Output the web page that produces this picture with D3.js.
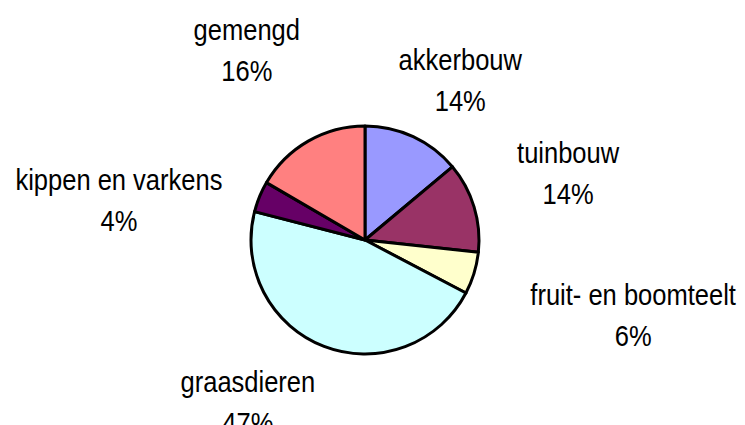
<!DOCTYPE html>
<html>
<head>
<meta charset="utf-8">
<script src="https://cdn.jsdelivr.net/npm/d3@7"></script>
<style>
  body { margin: 0; background: #fff; }
  svg { display: block; }
  .lbl { font-family: "Liberation Sans", Arial, sans-serif; font-size: 29px; fill: #000; }
</style>
</head>
<body>
<div id="chart"></div>
<script>
// sectors, clockwise from 12 o'clock
var categories = ['akkerbouw', 'tuinbouw', 'fruit- en boomteelt', 'graasdieren', 'kippen en varkens', 'gemengd'];
var values = [13.9, 12.8, 6.0, 46.3, 4.4, 16.6];
var percentLabels = ['14%', '14%', '6%', '47%', '4%', '16%'];
var colors = ['#9999ff', '#993366', '#ffffcc', '#ccffff', '#660066', '#ff8080'];

// label boxes were moved by hand in the original, nudge them off the label arc
var labelNudge = [[28, -16], [51, -21], [116, 29], [-60, 14], [-99, 20], [-39, -52]];

var width = 745, height = 425;
var cx = 365, cy = 240, radius = 114;
var squeeze = 0.88; // the original font is a narrow one

var svg = d3.select('#chart').append('svg')
  .attr('width', width)
  .attr('height', height);

var g = svg.append('g')
  .attr('transform', 'translate(' + [cx, cy] + ')');

var rows = categories.map(function(c, i) {
  return { name: c, value: values[i], pct: percentLabels[i], color: colors[i], nudge: labelNudge[i] };
});

var pie = d3.pie().sort(null).value(function(d) { return d.value; });
var arc = d3.arc().innerRadius(0).outerRadius(radius);
var labelArc = d3.arc().innerRadius(radius + 45).outerRadius(radius + 45);

g.selectAll('.slice')
  .data(pie(rows))
  .enter()
  .append('path')
  .attr('class', 'slice')
  .attr('d', arc)
  .attr('fill', function(d) { return d.data.color; })
  .attr('stroke', '#000')
  .attr('stroke-width', 3)
  .attr('stroke-linejoin', 'round');

var labels = g.selectAll('.lbl')
  .data(pie(rows))
  .enter()
  .append('text')
  .attr('class', 'lbl')
  .attr('text-anchor', 'middle')
  .attr('transform', function(d) {
    var c = labelArc.centroid(d);
    return 'translate(' + [c[0] + d.data.nudge[0], c[1] + d.data.nudge[1]] + ') scale(' + squeeze + ',1)';
  });

labels.append('tspan').attr('x', 0).attr('y', -10).text(function(d) { return d.data.name; });
labels.append('tspan').attr('x', 0).attr('y', 31).text(function(d) { return d.data.pct; });
</script>
</body>
</html>
